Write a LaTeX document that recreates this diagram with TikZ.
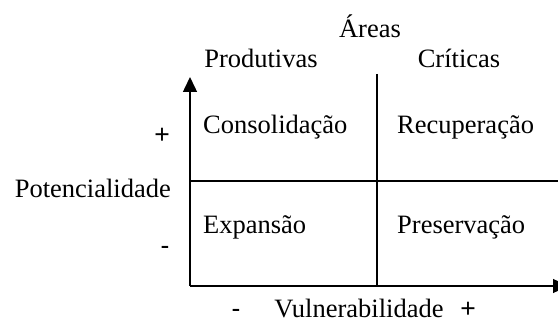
\documentclass[tikz,border=0pt]{standalone}
\usepackage{fontspec}
\setmainfont{Liberation Serif}
\newfontfamily\signfont{Liberation Sans}
\usetikzlibrary{arrows.meta}
\tikzset{
  lbl/.style={inner sep=0pt, anchor=base, text depth=0pt, font=\fontsize{26.5}{30}\selectfont},
  quad/.style={inner sep=0pt, anchor=base west, font=\fontsize{26.5}{30}\selectfont},
  sign/.style={inner sep=0pt, anchor=base, text depth=0pt, font=\signfont\fontsize{26.5}{30}\selectfont},
  axis/.style={line width=1.5pt, -{Triangle[length=15pt,width=14pt]}},
  divider/.style={line width=1.5pt}
}
\begin{document}
\begin{tikzpicture}[x=1pt,y=-1pt]
\path[use as bounding box] (0,0) rectangle (558,323);
\clip (0,0) rectangle (558,323);
\fill[white] (0,0) rectangle (558,323);
% corner and axis coordinates
\coordinate (origin) at (190,286);
\coordinate (ytip) at (190,77);
\coordinate (xtip) at (568,286);
\coordinate (vtop) at (377,74);
\coordinate (vbot) at (377,286);
\coordinate (hleft) at (190,181);
\coordinate (hright) at (560,181);
% lines
\draw[divider] (vtop) -- (vbot);
\draw[divider] (hleft) -- (hright);
\draw[axis] (origin) -- (ytip);
\draw[axis] (origin) -- (xtip);
% header texts
\node[lbl] (areas) at (370,38) {Áreas};
\node[lbl] (prod) at (261,68) {Produtivas};
\node[lbl] (crit) at (459,68) {Críticas};
% quadrant texts
\node[quad] (cons) at (203,134) {Consolidação};
\node[quad] (recu) at (397,134) {Recuperação};
\node[quad] (expa) at (203,234) {Expansão};
\node[quad] (pres) at (397,234) {Preservação};
% left axis labels
\node[sign] (plusL) at (162,144) {+};
\node[lbl, anchor=base east] (pot) at (171,198) {Potencialidade};
\node[sign] (minusL) at (165,255) {-};
% bottom axis labels
\node[sign] (minusB) at (236,318) {-};
\node[lbl] (vul) at (359,318) {Vulnerabilidade};
\node[sign] (plusB) at (468,318) {+};
\end{tikzpicture}
\end{document}
